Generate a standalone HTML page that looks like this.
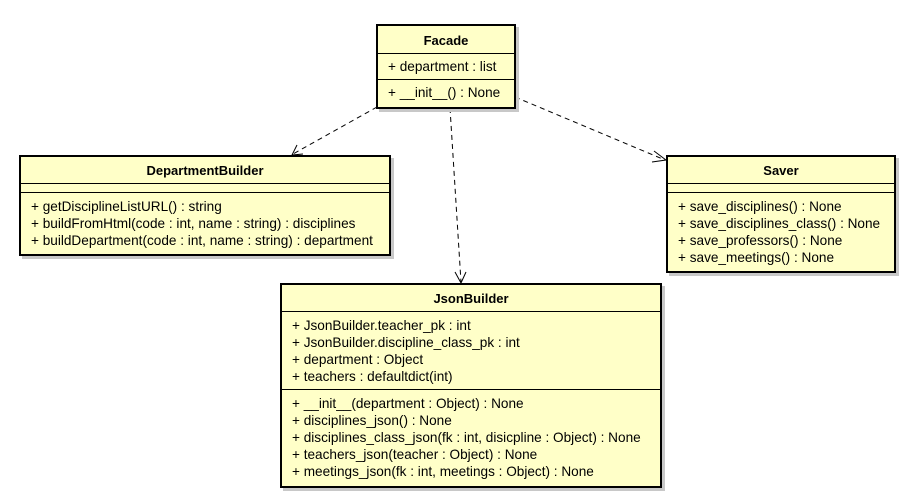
<!DOCTYPE html>
<html><head><meta charset="utf-8"><style>
body{margin:0;width:909px;height:497px;background:#fff;position:relative;overflow:hidden;font-family:"Liberation Sans",sans-serif;font-size:13.6px;color:#000}
.b{position:absolute;background:#ffffc8;border:2px solid #000;box-sizing:border-box;box-shadow:3px 3px 0 #c8c8c8}
.t{font-weight:bold;text-align:center;border-bottom:1px solid #000;font-size:13px}
.s{border-bottom:1px solid #000;padding:5px 0 0 10px;line-height:17px;white-space:nowrap}
.s:last-child{border-bottom:none}
</style></head><body>
<svg width="909" height="497" style="position:absolute;left:0;top:0">
<g stroke="#000" stroke-width="1" fill="none" stroke-dasharray="5,4">
<line x1="377" y1="107" x2="293" y2="154"/>
<line x1="450" y1="108" x2="461" y2="282"/>
<line x1="515" y1="97" x2="665" y2="160"/>
</g>
<g stroke="#000" stroke-width="1" fill="none">
<polyline points="297,145 292,155 303,154"/>
<polyline points="455,272 461,283 466,272"/>
<polyline points="654,151 666,160 652,162"/>
</g>
</svg>
<div class="b" style="left:376px;top:24px;width:140px;height:85px">
<div class="t" style="height:27px;line-height:29px">Facade</div>
<div class="s" style="height:21px;padding-top:4px">+ department : list</div>
<div class="s" style="padding-top:4px">+ __init__() : None</div>
</div>
<div class="b" style="left:19px;top:155px;width:372px;height:101px">
<div class="t" style="height:26px;line-height:28px">DepartmentBuilder</div>
<div class="s" style="height:8px;padding:0"></div>
<div class="s">+ getDisciplineListURL() : string<br>+ buildFromHtml(code : int, name : string) : disciplines<br>+ buildDepartment(code : int, name : string) : department</div>
</div>
<div class="b" style="left:666px;top:155px;width:230px;height:118px">
<div class="t" style="height:26px;line-height:28px">Saver</div>
<div class="s" style="height:8px;padding:0"></div>
<div class="s">+ save_disciplines() : None<br>+ save_disciplines_class() : None<br>+ save_professors() : None<br>+ save_meetings() : None</div>
</div>
<div class="b" style="left:280px;top:283px;width:382px;height:205px">
<div class="t" style="height:26px;line-height:28px">JsonBuilder</div>
<div class="s" style="height:72px">+ JsonBuilder.teacher_pk : int<br>+ JsonBuilder.discipline_class_pk : int<br>+ department : Object<br>+ teachers : defaultdict(int)</div>
<div class="s">+ __init__(department : Object) : None<br>+ disciplines_json() : None<br>+ disciplines_class_json(fk : int, disicpline : Object) : None<br>+ teachers_json(teacher : Object) : None<br>+ meetings_json(fk : int, meetings : Object) : None</div>
</div>
</body></html>
